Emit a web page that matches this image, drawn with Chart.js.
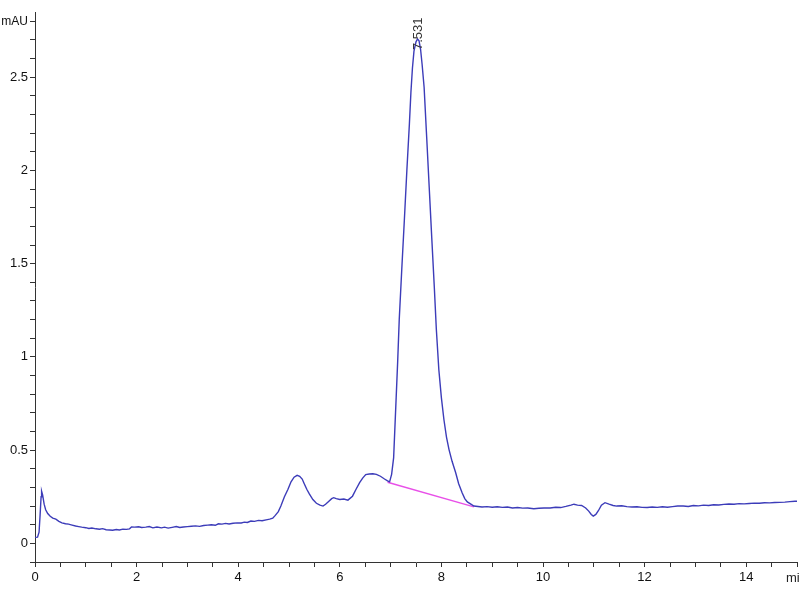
<!DOCTYPE html>
<html>
<head>
<meta charset="utf-8">
<script src="https://cdn.jsdelivr.net/npm/chart.js@4.4.0/dist/chart.umd.min.js"></script>
<style>
  body { margin: 0; background: #fff; }
</style>
</head>
<body>
<canvas id="chrom" width="800" height="600"></canvas>
<script>
// retention time (min)
var times = [
  0.00, 0.05, 0.08, 0.10, 0.12, 0.13, 0.15, 0.18, 0.21, 0.25, 0.30, 0.35, 0.41, 0.47, 0.53, 0.60, 0.66, 0.73, 0.80, 0.86,
  0.92, 1.00, 1.06, 1.12, 1.20, 1.27, 1.33, 1.40, 1.47, 1.53, 1.60, 1.66, 1.73, 1.80, 1.86, 1.90, 1.96, 2.04, 2.10, 2.18,
  2.25, 2.32, 2.40, 2.49, 2.55, 2.62, 2.70, 2.78, 2.85, 2.92, 3.00, 3.08, 3.16, 3.24, 3.32, 3.40, 3.47, 3.55, 3.61, 3.68,
  3.75, 3.82, 3.90, 3.98, 4.06, 4.12, 4.18, 4.25, 4.32, 4.40, 4.47, 4.55, 4.62, 4.68, 4.73, 4.79, 4.84, 4.91, 4.98, 5.04,
  5.10, 5.16, 5.21, 5.26, 5.30, 5.35, 5.40, 5.47, 5.54, 5.61, 5.67, 5.72, 5.78, 5.84, 5.88, 5.93, 6.00, 6.08, 6.16, 6.25,
  6.32, 6.39, 6.45, 6.51, 6.58, 6.65, 6.72, 6.80, 6.88, 6.94, 6.98, 7.02, 7.06, 7.10, 7.14, 7.17, 7.22, 7.27, 7.32, 7.37,
  7.40, 7.43, 7.46, 7.50, 7.53, 7.56, 7.59, 7.62, 7.66, 7.71, 7.76, 7.81, 7.86, 7.90, 7.95, 8.00, 8.05, 8.10, 8.15, 8.21,
  8.28, 8.34, 8.41, 8.46, 8.51, 8.58, 8.64, 8.72, 8.80, 8.90, 9.00, 9.10, 9.20, 9.30,
  9.40, 9.50, 9.60, 9.70, 9.82, 9.92, 10.02, 10.14, 10.25, 10.35, 10.45, 10.55, 10.61, 10.68, 10.76, 10.84, 10.90, 10.95, 10.99, 11.04,
  11.09, 11.15, 11.22, 11.30, 11.38, 11.45, 11.55, 11.65, 11.75, 11.85, 11.95, 12.05, 12.15, 12.25, 12.35, 12.45, 12.55, 12.65, 12.76, 12.86,
  12.96, 13.06, 13.16, 13.26, 13.36, 13.46, 13.56, 13.66, 13.76, 13.86, 13.96, 14.06, 14.16, 14.26, 14.36, 14.46, 14.56, 14.66, 14.76, 14.86,
  14.96, 15.00
];
// absorbance (mAU)
var absorbance = [
  0.032, 0.033, 0.06, 0.15, 0.25, 0.28, 0.26, 0.21, 0.18, 0.16, 0.145, 0.135, 0.13, 0.118, 0.11, 0.105, 0.103, 0.098, 0.093, 0.09,
  0.087, 0.084, 0.08, 0.082, 0.078, 0.076, 0.079, 0.073, 0.072, 0.07, 0.074, 0.072, 0.076, 0.075, 0.078, 0.088, 0.087, 0.089, 0.085, 0.087,
  0.09, 0.083, 0.088, 0.083, 0.087, 0.082, 0.086, 0.09, 0.085, 0.088, 0.09, 0.092, 0.094, 0.091, 0.096, 0.098, 0.10, 0.097, 0.105, 0.103,
  0.107, 0.104, 0.108, 0.11, 0.109, 0.114, 0.112, 0.12, 0.118, 0.123, 0.121, 0.126, 0.13, 0.135, 0.15, 0.17, 0.20, 0.25, 0.29, 0.33,
  0.355, 0.365, 0.36, 0.345, 0.32, 0.29, 0.265, 0.235, 0.215, 0.205, 0.20, 0.21, 0.225, 0.24, 0.245, 0.24, 0.235, 0.238, 0.232, 0.253,
  0.29, 0.326, 0.35, 0.369, 0.372, 0.373, 0.37, 0.36, 0.345, 0.335, 0.33, 0.37, 0.46, 0.72, 0.98, 1.2, 1.47, 1.73, 2.0, 2.25,
  2.42, 2.55, 2.64, 2.69, 2.705, 2.695, 2.65, 2.57, 2.445, 2.18, 1.91, 1.64, 1.376, 1.15, 0.93, 0.78, 0.663, 0.57, 0.503, 0.44,
  0.38, 0.32, 0.27, 0.24, 0.222, 0.21, 0.20, 0.198, 0.195, 0.197, 0.194, 0.196, 0.193, 0.195,
  0.19, 0.192, 0.189, 0.19, 0.186, 0.188, 0.19, 0.19, 0.194, 0.192, 0.198, 0.205, 0.21, 0.205, 0.203, 0.19, 0.173, 0.155, 0.146, 0.155,
  0.175, 0.205, 0.218, 0.21, 0.203, 0.20, 0.202, 0.197, 0.195, 0.196, 0.193, 0.192, 0.195, 0.193, 0.196, 0.194, 0.197, 0.20, 0.20, 0.198,
  0.203, 0.201, 0.205, 0.203, 0.207, 0.206, 0.209, 0.211, 0.21, 0.213, 0.212, 0.214, 0.216, 0.215, 0.218, 0.217, 0.219, 0.22, 0.221, 0.224,
  0.226, 0.226
];
// integration baseline under the main peak
var baseTimes = [6.94, 8.64];
var baseValues = [0.328, 0.196];
// peak annotation
var peakTime = 7.531;
var peakHeight = 2.705;

var fontFam = "'Liberation Sans Narrow', 'Arial Narrow', 'Liberation Sans', Arial, sans-serif";
var traceBlue = 'rgb(60, 60, 185)';
var baseMagenta = 'rgb(232, 80, 232)';

var trace = times.map(function (t, i) { return { x: t, y: absorbance[i] }; });
var baseline = baseTimes.map(function (t, i) { return { x: t, y: baseValues[i] }; });

var labelsPlugin = {
  id: 'labels',
  afterDraw: function (chart) {
    var c = chart.ctx;
    var xs = chart.scales.x, ys = chart.scales.y;
    c.save();
    c.font = '13px ' + fontFam;
    c.fillStyle = '#222';
    c.textAlign = 'left';
    c.textBaseline = 'middle';
    c.fillText('min', 786, xs.top + 16);
    // peak retention time, rotated
    c.translate(xs.getPixelForValue(peakTime) + 1, ys.getPixelForValue(peakHeight) + 11);
    c.rotate(-Math.PI / 2);
    c.fillStyle = '#333';
    c.fillText(peakTime.toFixed(3), 0, 0);
    c.restore();
  }
};

function keepSteps(step) {
  return function (scale) {
    var out = [];
    var n0 = Math.ceil(scale.min / step - 1e-6), n1 = Math.floor(scale.max / step + 1e-6);
    for (var n = n0; n <= n1; n++) out.push({ value: +(n * step).toFixed(4) });
    scale.ticks = out;
  };
}

var ctx = document.getElementById('chrom').getContext('2d');
var myChart = new Chart(ctx, {
  type: 'scatter',
  data: {
    datasets: [{
      data: trace,
      showLine: true,
      borderColor: traceBlue,
      borderWidth: 1.4,
      pointRadius: 0,
      tension: 0
    }, {
      data: baseline,
      showLine: true,
      borderColor: baseMagenta,
      borderWidth: 1.4,
      pointRadius: 0
    }]
  },
  options: {
    responsive: false,
    animation: false,
    layout: { padding: { top: 12, left: 0, right: 0, bottom: 0 } },
    plugins: { legend: { display: false }, tooltip: { enabled: false } },
    scales: {
      x: {
        type: 'linear',
        min: 0,
        max: 15,
        afterBuildTicks: keepSteps(0.5),
        afterFit: function (s) { s.height = 38; },
        border: { color: '#333', width: 1 },
        grid: { drawOnChartArea: false, tickLength: 5, color: '#333' },
        ticks: {
          autoSkip: false,
          maxRotation: 0,
          padding: 3,
          color: '#111',
          font: { family: fontFam, size: 13 },
          callback: function (v) {
            return (Math.abs(v % 2) < 1e-6 && v < 15) ? String(v) : '';
          }
        }
      },
      y: {
        min: -0.1,
        max: 2.85,
        afterBuildTicks: keepSteps(0.1),
        afterFit: function (s) { s.width = 35; },
        border: { color: '#333', width: 1 },
        grid: { drawOnChartArea: false, tickLength: 5, color: '#333' },
        ticks: {
          autoSkip: false,
          padding: 2,
          color: '#111',
          font: function (c) {
            var isUnit = c.tick && Math.abs(c.tick.value - 2.8) < 1e-6;
            return { family: fontFam, size: isUnit ? 12 : 13 };
          },
          callback: function (v) {
            if (Math.abs(v - 2.8) < 1e-6) return 'mAU';
            var r = Math.round(v * 10);
            return (r % 5 === 0 && r >= 0) ? String(r / 10) : '';
          }
        }
      }
    }
  },
  plugins: [labelsPlugin]
});
</script>
</body>
</html>
